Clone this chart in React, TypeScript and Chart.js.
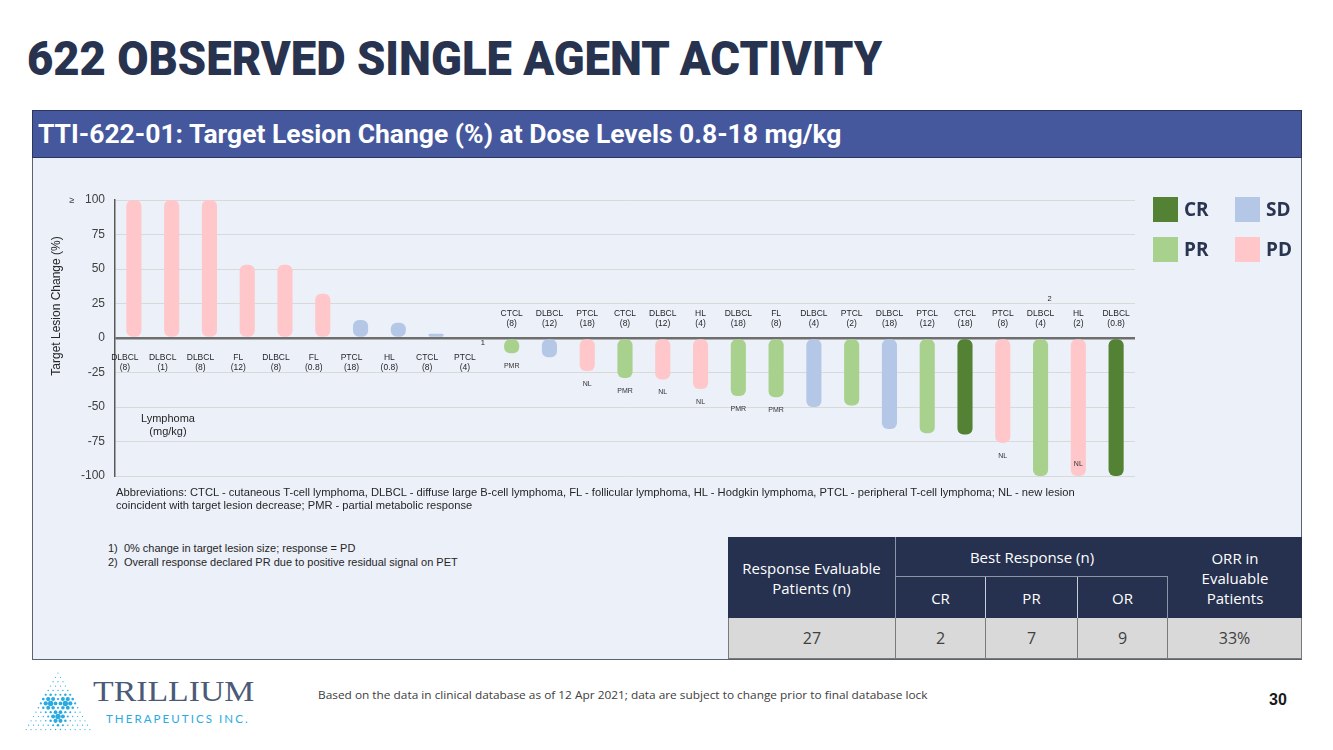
import React, { useEffect, useLayoutEffect, useRef } from 'react';
import { Chart, registerables } from 'chart.js';

Chart.register(...registerables);

// ---------------- DATA ----------------
const categories = ['DLBCL', 'DLBCL', 'DLBCL', 'FL', 'DLBCL', 'FL', 'PTCL', 'HL', 'CTCL', 'PTCL', 'CTCL', 'DLBCL', 'PTCL', 'CTCL', 'DLBCL', 'HL', 'DLBCL', 'FL', 'DLBCL', 'PTCL', 'DLBCL', 'PTCL', 'CTCL', 'PTCL', 'DLBCL', 'HL', 'DLBCL'];
const doses = ['(8)', '(1)', '(8)', '(12)', '(8)', '(0.8)', '(18)', '(0.8)', '(8)', '(4)', '(8)', '(12)', '(18)', '(8)', '(12)', '(4)', '(18)', '(8)', '(4)', '(2)', '(18)', '(12)', '(18)', '(8)', '(4)', '(2)', '(0.8)'];
const values = [100, 100, 100, 53, 53, 32, 13, 11, 3, 0, -11, -14, -24, -29, -30, -37, -42, -43, -50, -49, -66, -69, -70, -76, -100, -100, -100];
const responses = ['PD', 'PD', 'PD', 'PD', 'PD', 'PD', 'SD', 'SD', 'SD', 'PD', 'PR', 'SD', 'PD', 'PR', 'PD', 'PD', 'PR', 'PR', 'SD', 'PR', 'SD', 'PR', 'CR', 'PD', 'PR', 'PD', 'CR'];
const notes = ['', '', '', '', '', '', '', '', '', '', 'PMR', '', 'NL', 'PMR', 'NL', 'NL', 'PMR', 'PMR', '', '', '', '', '', 'NL', '', 'NL', ''];
const footMarks = ['', '', '', '', '', '', '', '', '', '1', '', '', '', '', '', '', '', '', '', '', '', '', '', '', '2', '', ''];
const yMin = -100;
const yMax = 100;
const yStep = 25;
const legendItems = ['CR', 'SD', 'PR', 'PD'];
const tableHeader = ['Response Evaluable Patients (n)', 'Best Response (n)', 'CR', 'PR', 'OR', 'ORR in Evaluable Patients'];
const tableRow = ['27', '2', '7', '9', '33%'];

const colors: Record<string, string> = {
  CR: '#548235',
  PR: '#a9d18e',
  SD: '#b4c7e7',
  PD: '#ffc7c9',
};

const ARIAL = '"Liberation Sans", Arial, sans-serif';

// ---------------- helpers ----------------
function Fit({ w, style, children }: { w: number; style?: React.CSSProperties; children: React.ReactNode }) {
  const ref = useRef<HTMLSpanElement>(null);
  useLayoutEffect(() => {
    const measure = () => {
      const el = ref.current;
      if (!el) return;
      el.style.transform = 'none';
      const nat = el.offsetWidth;
      if (nat > 0) el.style.transform = `scaleX(${w / nat})`;
    };
    measure();
    const f: any = (document as any).fonts;
    if (f && f.ready) f.ready.then(measure);
  }, [w]);
  return (
    <span
      ref={ref}
      style={{ display: 'inline-block', whiteSpace: 'nowrap', transformOrigin: 'left center', ...style }}
    >
      {children}
    </span>
  );
}

const labelPlugin = {
  id: 'waterfallLabels',
  afterDatasetsDraw(chart: any) {
    const { ctx, chartArea } = chart;
    const xs = chart.scales.x;
    const ys = chart.scales.y;
    const zero = ys.getPixelForValue(0);
    ctx.save();
    ctx.textAlign = 'center';
    ctx.textBaseline = 'middle';
    categories.forEach((c, i) => {
      const px = xs.getPixelForValue(i);
      const v = values[i];
      const below = v >= 0;
      const first = below ? zero + 20 : zero - 24;
      const lx = below ? px - 9 : px;
      ctx.fillStyle = '#262626';
      ctx.font = `8.5px ${ARIAL}`;
      ctx.fillText(c, lx, first);
      ctx.fillText(doses[i], lx, first + 10);
      if (footMarks[i]) {
        ctx.font = `7.5px ${ARIAL}`;
        ctx.fillText(footMarks[i], px + 9, first - 15);
      }
      if (notes[i]) {
        const end = ys.getPixelForValue(v);
        const ny = v <= yMin ? end - 12 : end + 13;
        ctx.font = `7px ${ARIAL}`;
        ctx.fillStyle = '#333333';
        ctx.fillText(notes[i], px, ny);
      }
    });
    ctx.fillStyle = '#404040';
    ctx.font = `9px ${ARIAL}`;
    ctx.fillText('≥', chartArea.left - 43, ys.getPixelForValue(yMax) + 1);
    ctx.translate(chartArea.left - 58, (chartArea.top + chartArea.bottom) / 2 - 32);
    ctx.rotate(-Math.PI / 2);
    ctx.font = `12px ${ARIAL}`;
    ctx.fillStyle = '#262626';
    ctx.fillText('Target Lesion Change (%)', 0, 0);
    ctx.restore();
  },
};

function WaterfallChart() {
  const canvasRef = useRef<HTMLCanvasElement>(null);
  useEffect(() => {
    const canvas = canvasRef.current;
    if (!canvas) return;
    const chart = new Chart(canvas, {
      type: 'bar',
      data: {
        labels: categories.map((c, i) => `${c} ${doses[i]}`),
        datasets: [
          {
            data: values,
            backgroundColor: responses.map((r) => colors[r]),
            borderRadius: 6,
            borderSkipped: false,
            barPercentage: 0.4,
            categoryPercentage: 1,
          },
        ],
      },
      options: {
        animation: false,
        responsive: false,
        maintainAspectRatio: false,
        layout: { padding: { top: 43, right: 167, bottom: 24, left: 0 } },
        plugins: { legend: { display: false }, tooltip: { enabled: false } },
        scales: {
          x: { display: false },
          y: {
            min: yMin,
            max: yMax,
            afterFit: (scale: any) => {
              scale.width = 83;
            },
            ticks: {
              stepSize: yStep,
              padding: 10,
              color: '#404040',
              font: { family: ARIAL, size: 12 },
            },
            grid: {
              drawTicks: false,
              color: (c: any) => (c.tick && c.tick.value === 0 ? '#6e6e6e' : '#d9d9d9'),
              lineWidth: (c: any) => (c.tick && c.tick.value === 0 ? 2.5 : 1),
            },
            border: { display: true, color: '#595959', width: 1.5 },
          },
        },
      },
      plugins: [labelPlugin],
    });
    return () => chart.destroy();
  }, []);
  return <canvas ref={canvasRef} width={1270} height={343} style={{ width: 1270, height: 343, display: 'block' }} />;
}

function LogoDots() {
  const dots: React.ReactNode[] = [];
  const centers = [
    [50, 703],
    [66, 703],
    [58, 717],
  ];
  for (let r = 0; r < 14; r++) {
    const y = 673 + r * 4.35;
    for (let j = 0; j <= r; j++) {
      const x = 58 + (j - r / 2) * 4.9;
      let m = 0;
      centers.forEach(([cx, cy]) => {
        const d2 = (x - cx) ** 2 + (y - cy) ** 2;
        m = Math.max(m, Math.exp(-d2 / 60));
      });
      const rad = 0.6 + 2.1 * m;
      dots.push(<circle key={`${r}-${j}`} cx={x} cy={y - 660} r={rad} fill="#29abe2" />);
    }
  }
  return (
    <svg width={100} height={80} style={{ position: 'absolute', left: 0, top: 660 }}>
      {dots}
    </svg>
  );
}

const cellBase: React.CSSProperties = {
  position: 'absolute',
  display: 'flex',
  alignItems: 'center',
  justifyContent: 'center',
  textAlign: 'center',
  boxSizing: 'border-box',
  fontFamily: '"Open Sans", sans-serif',
};

export default function App() {
  const colX = [728, 896, 986, 1078, 1168, 1302];
  const rowY = [537, 577, 618, 659];
  const hdr: React.CSSProperties = { ...cellBase, color: '#ffffff', fontSize: 15, lineHeight: '20px', background: '#263150' };
  const dat: React.CSSProperties = { ...cellBase, color: '#404040', fontSize: 16, background: '#d9d9d9', borderRight: '1px solid #7a7a7a', borderBottom: '1px solid #7a7a7a' };
  const small: React.CSSProperties = { fontSize: 11, color: '#262626', lineHeight: '13px', fontFamily: ARIAL };
  return (
    <div style={{ position: 'absolute', left: 0, top: 0, width: 1333, height: 750, background: '#ffffff', overflow: 'hidden', fontFamily: ARIAL }}>
      {/* Title */}
      <div style={{ position: 'absolute', left: 27, top: 34, lineHeight: '49px', height: 49 }}>
        <Fit w={855} style={{ fontFamily: 'Roboto, sans-serif', fontWeight: 900, fontSize: 49, color: '#283350', lineHeight: '49px' }}>
          622 OBSERVED SINGLE AGENT ACTIVITY
        </Fit>
      </div>

      {/* Panel */}
      <div style={{ position: 'absolute', left: 32, top: 157, width: 1270, height: 503, background: '#ecf0f9', borderLeft: '1.5px solid #5a6274', borderRight: '1.5px solid #5a6274', borderBottom: '1.5px solid #5a6274', boxSizing: 'border-box' }} />
      {/* Header bar */}
      <div style={{ position: 'absolute', left: 32, top: 110, width: 1270, height: 48, background: '#45589e', border: '1.5px solid #2c3658', boxSizing: 'border-box' }} />
      <div style={{ position: 'absolute', left: 38, top: 122, lineHeight: '25px', height: 25 }}>
        <Fit w={804} style={{ fontFamily: 'Roboto, sans-serif', fontWeight: 700, fontSize: 25, color: '#ffffff', lineHeight: '25px' }}>
          TTI-622-01: Target Lesion Change (%) at Dose Levels 0.8-18 mg/kg
        </Fit>
      </div>

      {/* Chart */}
      <div style={{ position: 'absolute', left: 32, top: 157, width: 1270, height: 343 }}>
        <WaterfallChart />
      </div>

      {/* Legend */}
      {legendItems.map((k, i) => {
        const col = i % 2;
        const row = Math.floor(i / 2);
        const bx = 1153 + col * 82;
        const by = 197 + row * 40;
        return (
          <React.Fragment key={k}>
            <div style={{ position: 'absolute', left: bx, top: by, width: 25, height: 25, background: colors[k] }} />
            <div style={{ position: 'absolute', left: bx + 31, top: by - 1, height: 27, lineHeight: '27px', fontFamily: '"Open Sans", sans-serif', fontWeight: 700, fontSize: 19, color: '#2a3550' }}>
              {k}
            </div>
          </React.Fragment>
        );
      })}

      {/* Lymphoma label */}
      <div style={{ position: 'absolute', left: 118, top: 412, width: 100, textAlign: 'center', fontSize: 11, lineHeight: '13px', color: '#262626' }}>
        Lymphoma
        <br />
        (mg/kg)
      </div>

      {/* Abbreviations */}
      <div style={{ position: 'absolute', left: 116, top: 486, height: 13, fontSize: 11, lineHeight: '13px' }}>
        <Fit w={959} style={small}>
          Abbreviations: CTCL - cutaneous T-cell lymphoma, DLBCL - diffuse large B-cell lymphoma, FL - follicular lymphoma, HL - Hodgkin lymphoma, PTCL - peripheral T-cell lymphoma; NL - new lesion
        </Fit>
      </div>
      <div style={{ position: 'absolute', left: 116, top: 499, height: 13, fontSize: 11, lineHeight: '13px' }}>
        <Fit w={356} style={small}>
          coincident with target lesion decrease; PMR - partial metabolic response
        </Fit>
      </div>

      {/* Footnotes */}
      <div style={{ position: 'absolute', left: 108, top: 541, fontSize: 11, lineHeight: '14px', color: '#262626', whiteSpace: 'nowrap' }}>
        1)&nbsp; 0% change in target lesion size; response = PD
        <br />
        2)&nbsp; Overall response declared PR due to positive residual signal on PET
      </div>

      {/* Table */}
      <div style={{ position: 'absolute', left: colX[0], top: rowY[0], width: colX[5] - colX[0], height: rowY[3] - rowY[0], background: '#263150', border: '1px solid #5a6274', boxSizing: 'border-box' }} />
      <div style={{ ...hdr, left: colX[0], top: rowY[0], width: colX[1] - colX[0], height: rowY[2] - rowY[0], padding: '0 8px', borderRight: '1.5px solid #8c94a8' }}>
        {tableHeader[0]}
      </div>
      <div style={{ ...hdr, left: colX[1], top: rowY[0], width: colX[4] - colX[1], height: rowY[1] - rowY[0], borderBottom: '1.5px solid #8c94a8' }}>
        {tableHeader[1]}
      </div>
      {[2, 3, 4].map((k, i) => (
        <div key={k} style={{ ...hdr, left: colX[1 + i], top: rowY[1], width: colX[2 + i] - colX[1 + i], height: rowY[2] - rowY[1], borderRight: i < 2 ? '1px solid #c8cdd8' : '1.5px solid #8c94a8' }}>
          {tableHeader[k]}
        </div>
      ))}
      <div style={{ ...hdr, left: colX[4], top: rowY[0], width: colX[5] - colX[4], height: rowY[2] - rowY[0], padding: '0 22px' }}>
        {tableHeader[5]}
      </div>
      {tableRow.map((t, i) => (
        <div key={i} style={{ ...dat, left: colX[i], top: rowY[2], width: colX[i + 1] - colX[i], height: rowY[3] - rowY[2], borderLeft: i === 0 ? '1px solid #7a7a7a' : undefined }}>
          {t}
        </div>
      ))}

      {/* Footer */}
      <LogoDots />
      <div style={{ position: 'absolute', left: 93, top: 676, height: 30, lineHeight: '30px' }}>
        <Fit w={161} style={{ fontFamily: '"Liberation Serif", "DejaVu Serif", serif', fontSize: 30, color: '#4b5a78', lineHeight: '30px' }}>
          TRILLIUM
        </Fit>
      </div>
      <div style={{ position: 'absolute', left: 106, top: 711, height: 14, lineHeight: '14px' }}>
        <Fit w={144} style={{ fontFamily: 'Lato, "Open Sans", sans-serif', fontSize: 11, letterSpacing: 2, color: '#29abe2', lineHeight: '14px' }}>
          THERAPEUTICS INC.
        </Fit>
      </div>
      <div style={{ position: 'absolute', left: 318, top: 687, height: 14, lineHeight: '14px' }}>
        <Fit w={610} style={{ fontFamily: '"Open Sans", sans-serif', fontSize: 11, color: '#404040', lineHeight: '14px' }}>
          Based on the data in clinical database as of 12 Apr 2021; data are subject to change prior to final database lock
        </Fit>
      </div>
      <div style={{ position: 'absolute', left: 1269, top: 691, fontSize: 16, fontWeight: 700, color: '#1a1a1a', lineHeight: '18px' }}>30</div>
    </div>
  );
}
